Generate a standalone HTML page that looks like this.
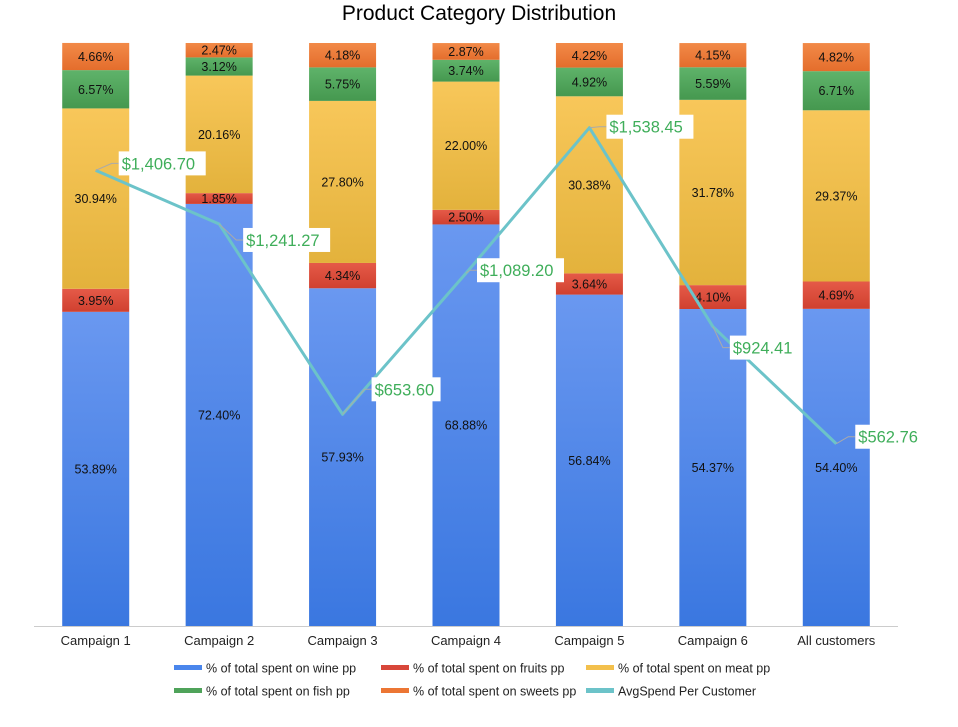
<!DOCTYPE html>
<html><head><meta charset="utf-8"><style>
body{margin:0;background:#fff;font-family:"Liberation Sans",sans-serif}
</style></head><body>
<svg id="c" width="958" height="722" xmlns="http://www.w3.org/2000/svg">
<defs>
<linearGradient id="gBlue" x1="0" y1="0" x2="0" y2="1"><stop offset="0" stop-color="#6a98f0"/><stop offset="1" stop-color="#3a77e0"/></linearGradient>
<linearGradient id="gYel" x1="0" y1="0" x2="0" y2="1"><stop offset="0" stop-color="#f8c75a"/><stop offset="1" stop-color="#e3b23c"/></linearGradient>
<linearGradient id="gGrn" x1="0" y1="0" x2="0" y2="1"><stop offset="0" stop-color="#5fb36a"/><stop offset="1" stop-color="#45984f"/></linearGradient>
<linearGradient id="gOr" x1="0" y1="0" x2="0" y2="1"><stop offset="0" stop-color="#f28a48"/><stop offset="1" stop-color="#e46d2c"/></linearGradient>
<linearGradient id="gRed" x1="0" y1="0" x2="0" y2="1"><stop offset="0" stop-color="#e55a48"/><stop offset="1" stop-color="#d0402f"/></linearGradient>
</defs>
<text x="479" y="20" text-anchor="middle" font-size="21" fill="#000">Product Category Distribution</text>
<g id="bars"></g><g id="line"></g><g id="xaxis"></g><g id="legend"></g>
</svg>
<script>
const categories=["Campaign 1","Campaign 2","Campaign 3","Campaign 4","Campaign 5","Campaign 6","All customers"];
const wine=[53.89,72.40,57.93,68.88,56.84,54.37,54.40];
const fruits=[3.95,1.85,4.34,2.50,3.64,4.10,4.69];
const meat=[30.94,20.16,27.80,22.00,30.38,31.78,29.37];
const fish=[6.57,3.12,5.75,3.74,4.92,5.59,6.71];
const sweets=[4.66,2.47,4.18,2.87,4.22,4.15,4.82];
const avgSpend=[1406.70,1241.27,653.60,1089.20,1538.45,924.41,562.76];
const seriesNames=["% of total spent on wine pp","% of total spent on fruits pp","% of total spent on meat pp","% of total spent on fish pp","% of total spent on sweets pp","AvgSpend Per Customer"];

const NS="http://www.w3.org/2000/svg";
const top0=43,base=626,x0=34,x1=898,bw=67;
const step=(x1-x0)/categories.length;
const xC=i=>x0+step*(i+0.5);
const yP=p=>base-(base-top0)*p/100;
const yV=v=>base-(base-top0)*v/1800;
// label placement offsets (layout only)
const lblDx=[26,27,32,14,20,20,22];
const lblDy=[-7,16,-25,-3,-1,21,-7];
function mk(t,a,p){const e=document.createElementNS(NS,t);for(const k in a)e.setAttribute(k,a[k]);p.appendChild(e);return e;}
const series=[[wine,"url(#gBlue)","wine"],[fruits,"url(#gRed)","fruits"],[meat,"url(#gYel)","meat"],[fish,"url(#gGrn)","fish"],[sweets,"url(#gOr)","sweets"]];
const gb=document.getElementById('bars');
categories.forEach((c,i)=>{
  let cum=0;
  series.forEach(([arr,fill,nm])=>{
    const v=arr[i];const yt=yP(cum+v),yb=yP(cum);cum+=v;
    const r=mk('rect',{x:xC(i)-bw/2,y:yt,width:bw,height:yb-yt,fill:fill},gb);
    
    
    const t=mk('text',{x:xC(i),y:(yt+yb)/2+4.5,'text-anchor':'middle','font-size':12.5,fill:'#111'},gb);
    t.textContent=v.toFixed(2)+'%';
    
    
  });
});
const gl=document.getElementById('line');
const pts=avgSpend.map((v,i)=>xC(i)+','+yV(v)).join(' ');
const pl=mk('polyline',{points:pts,fill:'none',stroke:'#6cc3c9','stroke-width':3,'stroke-linejoin':'round'},gl);


avgSpend.forEach((v,i)=>{
  const px=xC(i),py=yV(v);
  const lx=px+lblDx[i],ly=py+lblDy[i];
  const s='$'+v.toLocaleString('en-US',{minimumFractionDigits:2,maximumFractionDigits:2});
  mk('polyline',{points:`${px},${py} ${lx-10},${ly} ${lx-3},${ly}`,fill:'none',stroke:'#aaa','stroke-width':1},gl);
  const w=s.length*9+6;
  const bg=mk('rect',{x:lx-3,y:ly-12,width:w,height:24,fill:'#fff'},gl);
  
  
  const t=mk('text',{x:lx,y:ly+6,'font-size':16.5,fill:'#3fae5a'},gl);
  t.textContent=s;
  
  
});
const gx=document.getElementById('xaxis');
const ax=mk('line',{x1:x0,x2:x1,y1:base+0.5,y2:base+0.5,stroke:'#ccc'},gx);


categories.forEach((c,i)=>{
  const t=mk('text',{x:xC(i),y:645,'text-anchor':'middle','font-size':13,fill:'#222'},gx);
  t.textContent=c;
  
  
});
const gL=document.getElementById('legend');
const lcol=["#4a86ec","#d8473a","#f3c04c","#4fa35a","#ec7634","#6cc3c9"];
const lx=[174,381,586];
seriesNames.forEach((n,k)=>{
  const x=lx[k%3],y=k<3?668:691;
  const g=mk('g',{},gL);
  
  
  mk('rect',{x:x,y:y-3,width:28,height:5,fill:lcol[k]},g);
  const t=mk('text',{x:x+32,y:y+4.5,'font-size':12.5,fill:'#222'},g);
  t.textContent=n;
});
</script>
</body></html>
